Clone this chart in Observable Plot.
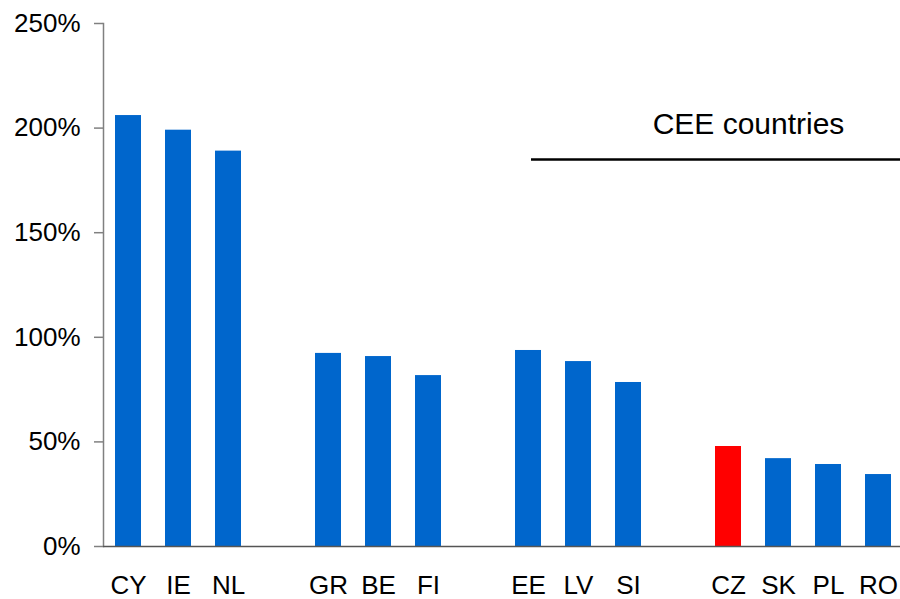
<!DOCTYPE html>
<html>
<head>
<meta charset="utf-8">
<script src="https://cdn.jsdelivr.net/npm/d3@7"></script>
<script src="https://cdn.jsdelivr.net/npm/@observablehq/plot@0.6"></script>
<style>
  html, body { margin: 0; padding: 0; background: #ffffff; }
  #chart { width: 900px; height: 599px; overflow: hidden; }
</style>
</head>
<body>
<div id="chart"></div>
<script>
// Country codes in drawing order
const countries = ["CY", "IE", "NL", "GR", "BE", "FI", "EE", "LV", "SI", "CZ", "SK", "PL", "RO"];
// Values in percent
const values = [206, 199, 189, 92.3, 90.8, 81.7, 93.7, 88.4, 78.4, 47.8, 42.0, 39.2, 34.4];
// Slot order including empty gaps between groups
const slots = ["CY", "IE", "NL", "gap1", "GR", "BE", "FI", "gap2", "EE", "LV", "SI", "gap3", "CZ", "SK", "PL", "RO"];
// Y tick values
const yTicks = [0, 50, 100, 150, 200, 250];
// Highlighted country
const highlight = "CZ";
// Annotation
const annotationLabel = "CEE countries";
const annotationValue = 185;
const annotationStart = "EE";
const annotationEnd = "RO";
const annotationLabelAt = "CZ";
const annotationLabelValue = 197.4;

const blue = "#0066CC";
const red = "#FF0000";

const data = countries.map((c, i) => ({country: c, value: values[i]}));
const annotation = [{from: annotationStart, to: annotationEnd, value: annotationValue}];

const chart = Plot.plot({
  width: 900,
  height: 599,
  marginLeft: 103,
  marginRight: 0,
  marginTop: 23,
  marginBottom: 53,
  style: {fontFamily: "Arial, 'Liberation Sans', sans-serif", background: "#ffffff", color: "#000"},
  x: {domain: slots, range: [103, 903], paddingInner: 0.48, paddingOuter: 0.24, label: null},
  y: {domain: [0, 250], label: null},
  color: {type: "identity"},
  marks: [
    Plot.barY(data, {x: "country", y: "value", fill: d => d.country === highlight ? red : blue}),
    Plot.frame({anchor: "left", stroke: "#808080", strokeWidth: 1.5, strokeOpacity: 1}),
    Plot.ruleY([0], {stroke: "#555555", strokeWidth: 1.5}),
    Plot.axisY({ticks: yTicks, tickFormat: d => d + "%", tickSize: 9, tickPadding: 14, fontSize: 26, stroke: "#808080", strokeWidth: 1.5, fill: "#000", label: null}),
    Plot.axisX({ticks: countries, tickSize: 0, tickPadding: 29, fontSize: 26, fill: "#000", label: null}),
    Plot.ruleY(annotation, {x1: "from", x2: "to", y: "value", insetLeft: 16, insetRight: -9, stroke: "#000", strokeWidth: 2.5}),
    Plot.text([{x: annotationLabelAt, y: annotationLabelValue, t: annotationLabel}], {x: "x", y: "y", text: "t", dx: 20, fontSize: 30, lineAnchor: "bottom", textAnchor: "middle", fill: "#000"})
  ]
});

document.getElementById("chart").appendChild(chart);
</script>
</body>
</html>
